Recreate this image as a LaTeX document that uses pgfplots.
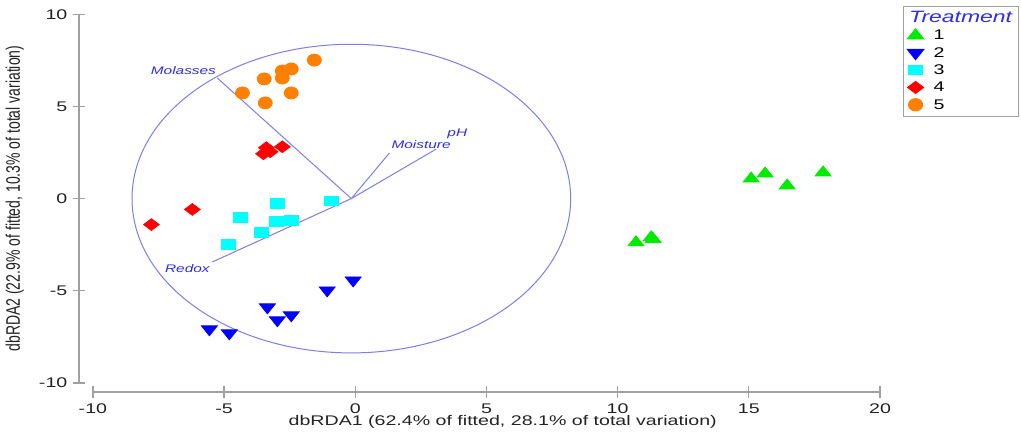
\documentclass[border=0pt]{standalone}
\usepackage{fontspec}
\setmainfont{Liberation Sans}
\usepackage{graphicx}
\usepackage{pgfplots}
\pgfplotsset{compat=1.18}
\definecolor{tgreen}{RGB}{0,235,0}
\definecolor{tblue}{RGB}{0,0,255}
\definecolor{tcyan}{RGB}{0,255,255}
\definecolor{tred}{RGB}{255,0,0}
\definecolor{torange}{RGB}{255,128,0}
\definecolor{axgray}{RGB}{160,160,160}
\definecolor{vecblue}{RGB}{125,125,235}
\definecolor{labblue}{RGB}{45,45,235}
\definecolor{txt}{RGB}{35,35,35}
\begin{document}
\begin{tikzpicture}
\useasboundingbox (-39.5pt,-20.5pt) rectangle (471pt,196pt);
\begin{axis}[
  at={(0,0)}, anchor=south west,
  scale only axis, width=400.5pt, height=188.9pt,
  xmin=-10.53, xmax=20, ymin=-10.49, ymax=10,
  xtick={-10,-5,0,5,10,15,20}, ytick={-10,-5,0,5,10},
  axis line style={draw=none},
  tick align=center, major tick length=6pt,
  xtick pos=bottom, ytick pos=left,
  tick style={draw=axgray, line width=0.6pt},
  /pgf/number format/assume math mode=true,
  every tick label/.append style={font=\fontsize{7}{8}\selectfont, text=txt, xscale=1.4},
  xticklabel style={yshift=0.5pt},
  yticklabel style={xshift=1.5pt},
  xlabel={\scalebox{1.4}[1]{dbRDA1 (62.4\% of fitted, 28.1\% of total variation)}},
  ylabel={\scalebox{1}[1.4]{dbRDA2 (22.9\% of fitted, 10.3\% of total variation)}},
  every axis x label/.style={at={(axis description cs:0.529,-0.079)}, anchor=center, font=\fontsize{7}{8}\selectfont, text=txt},
  every axis y label/.style={at={(axis description cs:-0.08,0.512)}, rotate=90, anchor=center, font=\fontsize{7}{8}\selectfont, text=txt},
  clip=false,
  legend style={at={(1.0287,1.0217)}, anchor=north west, draw=axgray, line width=0.6pt,
    inner xsep=2pt, inner ysep=1.5pt, row sep=0pt, column sep=4pt,
    font=\fontsize{7}{8}\selectfont,
    nodes={inner sep=1pt, text height=5.5pt, text depth=1.15pt}},
  legend cell align=left,
  legend image code/.code={\draw[#1] plot coordinates {(0cm,0cm)};},
]
% circle and vectors
\draw[vecblue, line width=0.5pt] (axis cs:-0.15,0) ellipse [x radius=8.36, y radius=8.37];
\addplot[vecblue, line width=0.5pt, forget plot] coordinates {(-0.15,0) (-5.26,6.54)};
\addplot[vecblue, line width=0.5pt, forget plot] coordinates {(-0.15,0) (-5.45,-3.44)};
\addplot[vecblue, line width=0.5pt, forget plot] coordinates {(-0.15,0) (1.30,2.47)};
\addplot[vecblue, line width=0.5pt, forget plot] coordinates {(-0.15,0) (3.09,2.69)};
\node[labblue, font=\fontsize{5.5}{6}\selectfont\itshape] at (axis cs:-6.55,6.92) {\scalebox{1.4}[1]{Molasses}};
\node[labblue, font=\fontsize{5.5}{6}\selectfont\itshape] at (axis cs:-6.40,-3.82) {\scalebox{1.4}[1]{Redox}};
\node[labblue, font=\fontsize{5.5}{6}\selectfont\itshape] at (axis cs:2.51,2.91) {\scalebox{1.4}[1]{Moisture}};
\node[labblue, font=\fontsize{5.5}{6}\selectfont\itshape] at (axis cs:3.89,3.51) {\scalebox{1.4}[1]{pH}};
% axis lines
\draw[axgray, line width=0.7pt] (axis cs:-10,-10.49) -- (axis cs:20,-10.49);
\draw[axgray, line width=0.7pt] (axis cs:-10.53,-10) -- (axis cs:-10.53,10);
% legend title
\addlegendimage{legend image code/.code={\node[overlay, anchor=west, inner sep=0pt, text=labblue, font=\fontsize{8.2}{9}\selectfont\itshape] at (-3.5pt,0pt) {\scalebox{1.4}[1]{Treatment}};}}
\addlegendentry{\rule{39.5pt}{0pt}}
% data
\addplot[only marks, mark=triangle*, mark size=4.6pt, color=tgreen, mark options={yscale=0.72}] coordinates {
(10.70,-2.38) (11.28,-2.11) (11.35,-2.20) (15.09,1.08) (15.62,1.35) (16.46,0.70) (17.83,1.41)};
\addlegendentry{\scalebox{1.4}[1]{1}}
\addplot[only marks, mark=triangle*, mark size=4.6pt, color=tblue, mark options={rotate=180, yscale=0.72}] coordinates {
(-0.08,-4.43) (-1.07,-4.97) (-3.35,-5.89) (-2.97,-6.59) (-2.44,-6.32) (-5.56,-7.08) (-4.80,-7.30)};
\addlegendentry{\scalebox{1.4}[1]{2}}
\addplot[only marks, mark=square*, mark size=3.35pt, color=tcyan, mark options={yscale=0.7}] coordinates {
(-2.97,-0.27) (-0.91,-0.11) (-4.38,-1.03) (-3.01,-1.24) (-2.44,-1.19) (-3.58,-1.84) (-4.84,-2.49)};
\addlegendentry{\scalebox{1.4}[1]{3}}
\addplot[only marks, mark=diamond*, mark size=3.9pt, color=tred, mark options={rotate=90}] coordinates {
(-3.39,2.76) (-3.50,2.43) (-3.24,2.54) (-2.78,2.81) (-6.21,-0.59) (-7.77,-1.41)};
\addlegendentry{\scalebox{1.4}[1]{4}}
\addplot[only marks, mark=*, mark size=3.5pt, color=torange, mark options={yscale=0.86}] coordinates {
(-1.56,7.51) (-3.47,6.49) (-2.78,6.54) (-2.78,6.92) (-2.44,7.03) (-4.30,5.73) (-3.43,5.19) (-2.44,5.73)};
\addlegendentry{\scalebox{1.4}[1]{5}}
\end{axis}
\end{tikzpicture}
\end{document}
